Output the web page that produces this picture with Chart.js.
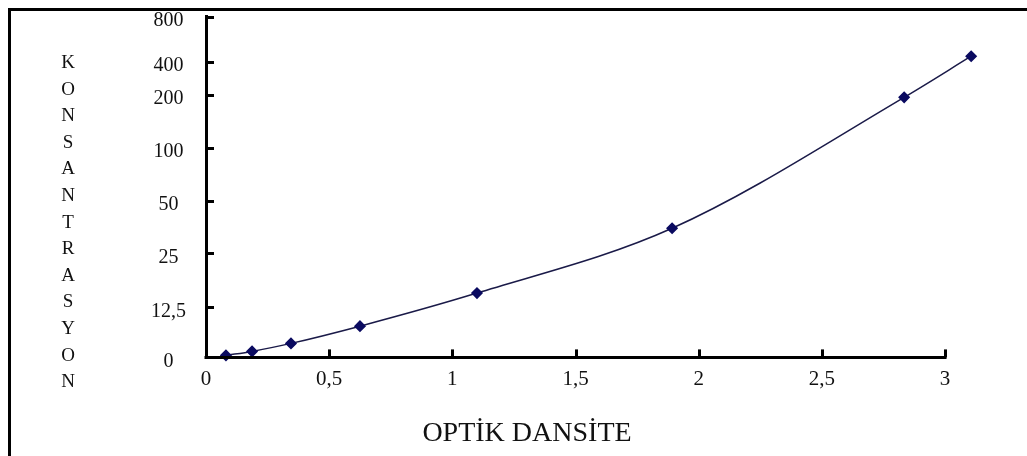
<!DOCTYPE html>
<html>
<head>
<meta charset="utf-8">
<script src="https://cdn.jsdelivr.net/npm/chart.js@4.4.0/dist/chart.umd.min.js"></script>
<style>
  html, body { margin: 0; padding: 0; background: #fff; overflow: hidden; }
  .frame { position: absolute; left: 8px; top: 8px; width: 1100px; height: 500px;
           border-left: 3px solid #000; border-top: 3px solid #000; }
  .wrap { position: absolute; left: 0; top: 0; width: 1027px; height: 456px; }
</style>
</head>
<body>
<div class="frame"></div>
<div class="wrap"><canvas id="myChart" width="1027" height="456"></canvas></div>
<script>
// ===== Data =====
const opticalDensity = [0.081, 0.187, 0.345, 0.625, 1.10, 1.892, 2.834, 3.106];   // x
const concentration  = [0.5, 1.5, 3.5, 7.8, 15.8, 37, 196, 452];                  // y
const yTickValues = [0, 12.5, 25, 50, 100, 200, 400, 800];
const yTickLabels = ['0', '12,5', '25', '50', '100', '200', '400', '800'];
const xTickValues = [0, 0.5, 1, 1.5, 2, 2.5, 3];
const xTickLabels = ['0', '0,5', '1', '1,5', '2', '2,5', '3'];
const yTitle = 'KONSANTRASYON';
const xTitle = 'OPTİK DANSİTE';

// where each y tick sits along the axis (0 = bottom, 1 = top) - the drawn axis is not evenly spaced
const yTickFrac = [0, 0.1466, 0.305, 0.4575, 0.613, 0.768, 0.865, 0.997];

const serif = '"Liberation Serif", "Times New Roman", serif';

// ===== Piecewise scale: linear between neighbouring ticks =====
class BandScale extends Chart.LinearScale {
  buildTicks() {
    return yTickValues.map(v => ({ value: v }));
  }
  getPixelForValue(value) {
    let i = 0;
    while (i < yTickValues.length - 2 && value > yTickValues[i + 1]) i++;
    const t = (value - yTickValues[i]) / (yTickValues[i + 1] - yTickValues[i]);
    return this.getPixelForDecimal(yTickFrac[i] + t * (yTickFrac[i + 1] - yTickFrac[i]));
  }
  getValueForPixel(pixel) {
    const d = this.getDecimalForPixel(pixel);
    let i = 0;
    while (i < yTickFrac.length - 2 && d > yTickFrac[i + 1]) i++;
    const t = (d - yTickFrac[i]) / (yTickFrac[i + 1] - yTickFrac[i]);
    return yTickValues[i] + t * (yTickValues[i + 1] - yTickValues[i]);
  }
}
BandScale.id = 'bands';
BandScale.defaults = {};
Chart.register(BandScale);

// ===== x axis line (stops at 3), inward tick marks, stacked y title =====
const axisExtras = {
  id: 'axisExtras',
  afterDraw(chart) {
    const { ctx, scales: { x, y } } = chart;
    const xEnd = x.getPixelForValue(xTickValues[xTickValues.length - 1]);
    ctx.save();
    ctx.strokeStyle = '#000';
    ctx.lineWidth = 3;
    ctx.beginPath();
    ctx.moveTo(x.left - 1.5, Math.round(y.bottom) + 0.5);
    ctx.lineTo(xEnd + 1.5, Math.round(y.bottom) + 0.5);
    ctx.stroke();
    x.ticks.forEach((t, i) => {
      if (i === 0) return;
      const px = Math.round(x.getPixelForTick(i)) + 0.5;
      ctx.beginPath();
      ctx.moveTo(px, y.bottom);
      ctx.lineTo(px, y.bottom - 8);
      ctx.stroke();
    });
    y.ticks.forEach((t, i) => {
      if (i === 0) return;
      const py = Math.round(y.getPixelForTick(i)) + 0.5;
      ctx.beginPath();
      ctx.moveTo(x.left, py);
      ctx.lineTo(x.left + 8, py);
      ctx.stroke();
    });
    ctx.fillStyle = '#111';
    ctx.font = '19px ' + serif;
    ctx.textAlign = 'center';
    ctx.textBaseline = 'middle';
    yTitle.split('').forEach((ch, i) => ctx.fillText(ch, 68, 63 + i * 26.6));
    ctx.restore();
  }
};

// ===== Chart =====
let ctx = document.getElementById('myChart').getContext('2d');

let chart = new Chart(ctx, {
  type: 'line',
  data: {
    datasets: [{
      data: opticalDensity.map((x, i) => ({ x: x, y: concentration[i] })),
      borderColor: '#1a1a48',
      borderWidth: 1.5,
      backgroundColor: '#0a0a60',
      pointBackgroundColor: '#0a0a60',
      pointBorderColor: '#0a0a60',
      pointStyle: 'rectRot',
      pointRadius: 5,
      cubicInterpolationMode: 'monotone',
      clip: false
    }]
  },
  options: {
    responsive: false,
    animation: false,
    events: [],
    layout: { padding: { left: 72, right: 45, top: 16, bottom: 6 } },
    plugins: {
      legend: { display: false },
      tooltip: { enabled: false },
      title: {
        display: true,
        position: 'bottom',
        text: xTitle,
        color: '#111',
        font: { family: serif, size: 28, weight: 'normal' },
        padding: { top: 19, bottom: 0 }
      }
    },
    scales: {
      x: {
        type: 'linear',
        min: 0,
        max: 3.15,
        afterBuildTicks: s => { s.ticks = xTickValues.map(v => ({ value: v })); },
        afterFit: s => { s.height = 40; s.paddingLeft = 0; s.paddingRight = 0; },
        grid: { display: false, drawTicks: false },
        border: { display: false },
        ticks: {
          padding: 9,
          color: '#111',
          font: { family: serif, size: 21 },
          autoSkip: false,
          maxRotation: 0,
          callback: (v, i) => xTickLabels[i]
        }
      },
      y: {
        type: 'bands',
        min: 0,
        max: 800,
        afterFit: s => { s.width = 134; s.paddingTop = 0; s.paddingBottom = 0; },
        grid: { display: false, drawTicks: false },
        border: { display: true, color: '#000', width: 3 },
        ticks: {
          padding: 20,
          crossAlign: 'center',
          labelOffset: 4,
          color: '#111',
          font: { family: serif, size: 20 },
          autoSkip: false,
          callback: (v, i) => yTickLabels[i]
        }
      }
    }
  },
  plugins: [axisExtras]
});
</script>
</body>
</html>
